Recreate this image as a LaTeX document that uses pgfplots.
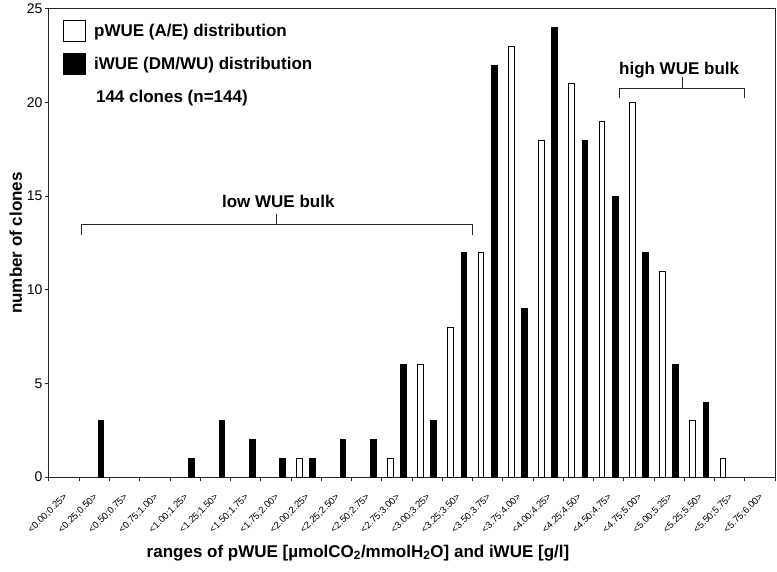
\documentclass[border=0pt]{standalone}
\usepackage{fontspec}
\setmainfont{Liberation Sans}
\usepackage{pgfplots}
\pgfplotsset{compat=1.18}
\begin{document}
\begin{tikzpicture}
\begin{axis}[
  scale only axis, width=726pt, height=468pt,
  xmin=-0.5, xmax=23.5, ymin=0, ymax=25,
  axis line style={line width=1pt, color=black!85},
  ytick={0,5,10,15,20,25},
  ytick pos=left, xtick pos=bottom,
  tick align=outside,
  major tick length=4pt, minor tick length=4pt,
  y tick style={line width=1pt, color=black!85},
  major x tick style={draw=none},
  minor x tick style={line width=1pt, color=black!85},
  xtick={0,...,23},
  minor xtick={-0.5,0.5,...,23.5},
  xticklabels={<0.00;0.25>,<0.25;0.50>,<0.50;0.75>,<0.75;1.00>,<1.00;1.25>,<1.25;1.50>,<1.50;1.75>,<1.75;2.00>,<2.00;2.25>,<2.25;2.50>,<2.50;2.75>,<2.75;3.00>,<3.00;3.25>,<3.25;3.50>,<3.50;3.75>,<3.75;4.00>,<4.00;4.25>,<4.25;4.50>,<4.50;4.75>,<4.75;5.00>,<5.00;5.25>,<5.25;5.50>,<5.50;5.75>,<5.75;6.00>},
  xticklabel style={xshift=4pt, yshift=-12pt, rotate=45, anchor=east, font=\fontsize{9.5}{11}\selectfont},
  yticklabel style={font=\fontsize{14}{15}\selectfont, xshift=1pt},
  /pgf/number format/assume math mode=true,
  ylabel={number of clones},
  ylabel style={font=\fontsize{17}{20}\selectfont\bfseries, yshift=-2pt},
  xlabel={ranges of pWUE [µmolCO\textsubscript{2}/mmolH\textsubscript{2}O] and iWUE [g/l]},
  xlabel style={font=\fontsize{17}{20}\selectfont\bfseries, at={(rel axis cs:0.5,0)}, anchor=base, yshift=-80pt, xshift=-54pt},
  legend cell align=left,
  legend style={at={(rel axis cs:0,1)}, anchor=north west, xshift=14pt, yshift=-11pt,
    draw=none, fill=none, font=\fontsize{17}{20}\selectfont\bfseries,
    row sep=11pt, inner sep=0pt, nodes={inner sep=0pt}},
  legend image code/.code={\draw[#1, line width=1pt] (0pt,-10.5pt) rectangle (22pt,10.5pt); \path (30pt,0pt);},
]
\addplot[ybar, bar width=5.8pt, bar shift=-6.65pt, fill=white, draw=black, line width=0.9pt]
 coordinates {(8,1) (11,1) (12,6) (13,8) (14,12) (15,23) (16,18) (17,21) (18,19) (19,20) (20,11) (21,3) (22,1)};
\addlegendentry{pWUE (A/E) distribution}
\addplot[ybar, bar width=5.8pt, bar shift=6.65pt, fill=black, draw=black, line width=0.9pt]
 coordinates {(1,3) (4,1) (5,3) (6,2) (7,1) (8,1) (9,2) (10,2) (11,6) (12,3) (13,12) (14,22) (15,9) (16,24) (17,18) (18,15) (19,12) (20,6) (21,4)};
\addlegendentry{iWUE (DM/WU) distribution}
\node[anchor=base west, inner sep=0pt, font=\fontsize{17}{20}\selectfont\bfseries] at (axis cs:1.05,20.0) {144 clones (n=144)};
\draw[line width=1pt, black!85] (axis cs:0.56,12.93) -- (axis cs:0.56,13.47) -- (axis cs:13.51,13.47) -- (axis cs:13.51,12.93);
\draw[line width=1pt, black!85] (axis cs:7.02,13.47) -- (axis cs:7.02,14.06);
\node[anchor=base, inner sep=0pt, font=\fontsize{17}{20}\selectfont\bfseries] at (axis cs:7.08,14.38) {low WUE bulk};
\draw[line width=1pt, black!85] (axis cs:18.37,20.26) -- (axis cs:18.37,20.74) -- (axis cs:22.48,20.74) -- (axis cs:22.48,20.26);
\draw[line width=1pt, black!85] (axis cs:20.43,20.74) -- (axis cs:20.43,21.38);
\node[anchor=base, inner sep=0pt, font=\fontsize{17}{20}\selectfont\bfseries] at (axis cs:20.33,21.52) {high WUE bulk};
\end{axis}
\pgfresetboundingbox
\path (-49pt,-94pt) rectangle (728pt,477pt);
\end{tikzpicture}
\end{document}
